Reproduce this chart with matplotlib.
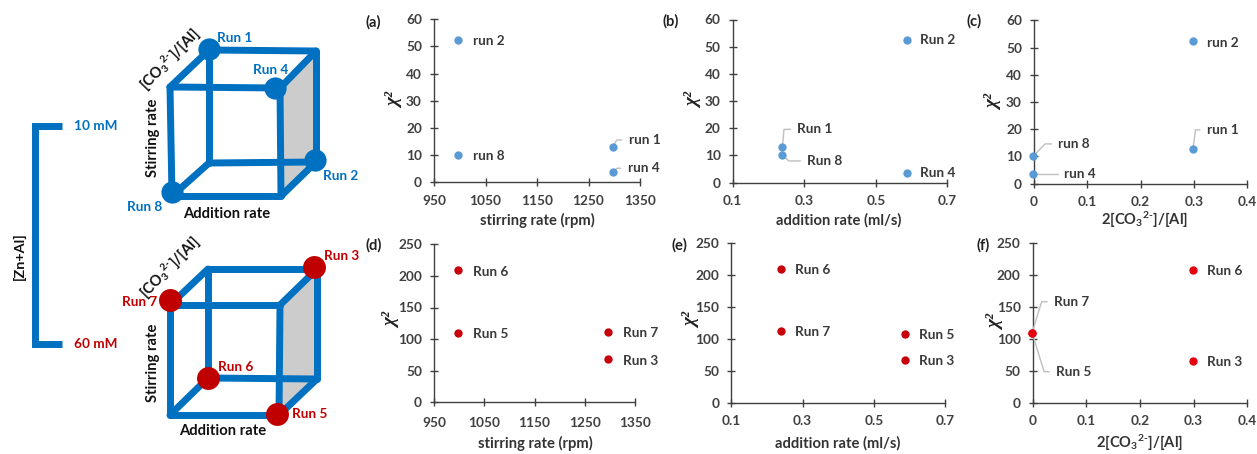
import matplotlib
matplotlib.use("Agg")
import matplotlib.pyplot as plt

plt.rcParams['font.family'] = ['Lato', 'DejaVu Sans']
plt.rcParams['mathtext.fontset'] = 'custom'
plt.rcParams['mathtext.rm'] = 'Lato:bold'
plt.rcParams['mathtext.it'] = 'Lato:bold'
plt.rcParams['mathtext.bf'] = 'Lato:bold'

W = 1257
H = 454

stirring = [997, 997, 1297, 1297]
addition_top = [0.587, 0.239, 0.239, 0.587]
ratio_top = [0.298, 0.298, -0.001, -0.001]
ratio_bot = [0.298, 0.298, -0.001, -0.001]

runs_a = ['run 2', 'run 8', 'run 1', 'run 4']
chi_a = [52.5, 10.2, 13, 3.7]
runs_b = ['Run 2', 'Run 1', 'Run 8', 'Run 4']
chi_b = [52.5, 13, 10.2, 3.5]
runs_c = ['run 2', 'run 1', 'run 8', 'run 4']
chi_c = [52.5, 12.8, 10.2, 3.5]

runs_d = ['Run 6', 'Run 5', 'Run 7', 'Run 3']
chi_d = [210, 109, 111, 68]
runs_e = ['Run 6', 'Run 7', 'Run 5', 'Run 3']
addition_e = [0.24, 0.24, 0.587, 0.587]
chi_e = [209, 112, 108, 67]
runs_f = ['Run 6', 'Run 3', 'Run 7', 'Run 5']
chi_f = [208, 66, 110, 110]

stir_ticks = [950, 1050, 1150, 1250, 1350]
add_ticks = [0.1, 0.3, 0.5, 0.7]
ratio_ticks = [0, 0.1, 0.2, 0.3, 0.4]
chi_ticks_top = [0, 10, 20, 30, 40, 50, 60]
chi_ticks_bot = [0, 50, 100, 150, 200, 250]

BLUE = '#0070c0'
RED = '#c00000'
DOT_BLUE = '#5b9bd5'
TXT = '#404040'
LBL = dict(fontsize=9.8, fontweight='bold', color='#3a3a3a')
RATIO = '2[CO$_{3}$$^{2\u2010}$]/[Al]'

fig = plt.figure(figsize=(W / 100, H / 100), dpi=100)

# full figure layer in pixels, for the cubes and panel letters
ov = fig.add_axes([0, 0, 1, 1])
ov.set_xlim(0, W)
ov.set_ylim(H, 0)
ov.axis('off')


def cube(ftl, ftr, fbr, fbl, btl, btr, bbr, bbl):
    ov.fill([ftr[0], btr[0], bbr[0], fbr[0]], [ftr[1], btr[1], bbr[1], fbr[1]],
            color='#cccccc', lw=0, zorder=1)
    edges = [(ftl, ftr), (ftr, fbr), (fbr, fbl), (fbl, ftl),
             (btl, btr), (btr, bbr), (bbr, bbl), (bbl, btl),
             (ftl, btl), (ftr, btr), (fbr, bbr), (fbl, bbl)]
    for p, q in edges:
        ov.plot([p[0], q[0]], [p[1], q[1]], color=BLUE, lw=5,
                solid_capstyle='round', zorder=2)


cube((170, 87), (280, 88), (281, 196), (172, 196),
     (209, 50), (316, 51), (316, 162), (209, 163))
cube((170, 305), (280, 305), (279, 415), (170, 415),
     (208, 269), (317, 269), (317, 379), (208, 378))

for x, y in [(209, 49), (275, 88), (315, 160), (172, 192)]:
    ov.plot(x, y, 'o', ms=16, color=BLUE, mew=0, zorder=3)
for x, y in [(170, 300), (314, 267), (208, 378), (277, 414)]:
    ov.plot(x, y, 'o', ms=16.5, color=RED, mew=0, zorder=3)

for name, x, y in [('Run 1', 217, 38), ('Run 4', 253, 70), ('Run 2', 323, 176), ('Run 8', 127, 207)]:
    ov.text(x, y, name, color=BLUE, fontsize=9.8, fontweight='bold', va='center', zorder=4)
for name, x, y in [('Run 3', 324, 256), ('Run 7', 122, 302), ('Run 6', 218, 367), ('Run 5', 292, 414)]:
    ov.text(x, y, name, color=RED, fontsize=9.8, fontweight='bold', va='center', zorder=4)

for x, y in [(227, 214), (223, 431)]:
    ov.text(x, y, 'Addition rate', color='#111111', fontsize=10.6, fontweight='bold', ha='center', va='center')
for x, y in [(153, 138), (153, 363)]:
    ov.text(x, y, 'Stirring rate', color='#111111', fontsize=10.6, fontweight='bold', rotation=90, ha='center', va='center')
for x, y in [(170, 60), (170, 268)]:
    ov.text(x, y, '[CO$_{3}$$^{2\u2010}$]/[Al]', color='#111111', fontsize=10.6, fontweight='bold',
            rotation=46, ha='center', va='center')

# concentration bracket
ov.plot([62, 35, 35, 62], [126, 126, 344, 344], color=BLUE, lw=5, solid_joinstyle='miter', solid_capstyle='butt')
ov.text(74, 126, '10 mM', color=BLUE, fontsize=9.8, fontweight='bold', va='center')
ov.text(74, 344, '60 mM', color=RED, fontsize=9.8, fontweight='bold', va='center')
ov.text(19, 256, '[Zn+Al]', color='#111111', fontsize=10.4, fontweight='bold', rotation=90, ha='center', va='center')

for name, x, y in [('(a)', 373, 22), ('(b)', 671, 21), ('(c)', 974, 21),
                   ('(d)', 374, 245), ('(e)', 679, 245), ('(f)', 983, 245)]:
    ov.text(x, y, name, color='#222222', fontsize=10.6, fontweight='bold', ha='center', va='center')


def panel(box, xs, ys, names, offs, xlim, xticks, ylim, yticks, xlab, xpos, ypos, col, xpad=6.0):
    l, r, b, t = box
    ax = fig.add_axes([l / W, 1 - b / H, (r - l) / W, (b - t) / H])
    ax.patch.set_alpha(0)
    for s in ['top', 'right']:
        ax.spines[s].set_visible(False)
    for s in ['left', 'bottom']:
        ax.spines[s].set_color('#404040')
        ax.spines[s].set_linewidth(1.0)
    ax.set_xlim(xlim)
    ax.set_ylim(ylim)
    ax.set_xticks(xticks)
    ax.set_xticklabels([str(v) for v in xticks])
    ax.set_yticks(yticks)
    ax.tick_params(axis='x', direction='inout', length=5.8, width=1, color='#404040', pad=xpad, labelcolor=TXT, labelsize=9.8)
    ax.tick_params(axis='y', direction='inout', length=5.8, width=1, color='#404040', pad=5.8, labelcolor=TXT, labelsize=9.8)
    for lab in ax.get_xticklabels() + ax.get_yticklabels():
        lab.set_fontweight('bold')
    ax.scatter(xs, ys, s=36, color=col, clip_on=False, zorder=5, linewidths=0)
    for x, y, name, off in zip(xs, ys, names, offs):
        dx, dy, ang = off
        arrow = None
        if ang is not None:
            arrow = dict(arrowstyle='-', color='#bfbfbf', lw=1, shrinkA=3, shrinkB=0, relpos=(0, 0.5),
                         connectionstyle='angle,angleA=0,angleB=%g,rad=0' % ang)
        ax.annotate(name, (x, y), xytext=(dx, -dy), xycoords='data', textcoords='offset pixels',
                    ha='left', va='center', annotation_clip=False, arrowprops=arrow, zorder=4, **LBL)
    ov.text(xpos[0], xpos[1], xlab, ha='center', va='center', fontsize=10.6, fontweight='bold', color='#333333')
    ov.text(ypos[0], ypos[1], '\u03c7\u00b2', ha='center', va='center', fontsize=14, rotation=90, color='#222222',
            family='Liberation Serif', style='italic', fontweight='bold')
    return ax


panel((434, 640, 182.3, 19.3), stirring, chi_a, runs_a,
      [(15, 1, None), (15, 1, None), (16, -7, 60), (15, -4, 42)],
      (950, 1350), stir_ticks, (0, 60), chi_ticks_top, 'stirring rate (rpm)', (537, 220), (396, 100), DOT_BLUE)
panel((732.7, 947.3, 182.7, 19.5), addition_top, chi_b, runs_b,
      [(13, 0, None), (15, -18, 85), (25, 6, -43), (13, 0, None)],
      (0.1, 0.7), add_ticks, (0, 60), chi_ticks_top, 'addition rate (ml/s)', (839, 220), (695, 100), DOT_BLUE)
panel((1034, 1247.3, 183.7, 20.3), ratio_top, chi_c, runs_c,
      [(14, 2, None), (14, -19, 82), (25, -12, 46), (31, 0, 3)],
      (0, 0.4), ratio_ticks, (0, 60), chi_ticks_top, RATIO, (1145, 220), (995, 102), DOT_BLUE)
panel((434, 635, 402.3, 244.3), stirring, chi_d, runs_d,
      [(15, 2, None), (15, 1, None), (15, 1, None), (15, 2, None)],
      (950, 1350), stir_ticks, (0, 250), chi_ticks_bot, 'stirring rate (rpm)', (535, 443), (393, 320), '#c8000a', xpad=8.0)
panel((731.3, 945, 403, 243), addition_e, chi_e, runs_e,
      [(14, 1, None), (14, 1, None), (14, 1, None), (14, 1, None)],
      (0.1, 0.7), add_ticks, (0, 250), chi_ticks_bot, 'addition rate (ml/s)', (838, 443), (693, 320), '#c8000a')
panel((1032.7, 1247.3, 403, 243.3), ratio_bot, chi_f, runs_f,
      [(14, 1, None), (14, 1, None), (22, -31, 73), (24, 39, -73)],
      (0, 0.4), ratio_ticks, (0, 250), chi_ticks_bot, RATIO, (1140, 443), (997, 322), '#e3000f')

fig.savefig('out.png', dpi=100)
